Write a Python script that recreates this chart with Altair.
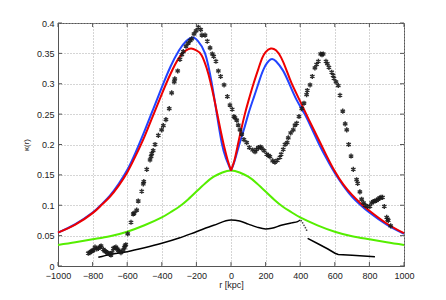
import altair as alt
import pandas as pd

# ---- data ----
red_x = [-1000, -900, -800, -750, -700, -650, -600, -550, -500, -450, -400, -350, -300, -260, -230, -200, -170, -140, -120, -100, -80, -60, -40, -20, 0,
         20, 40, 60, 80, 100, 130, 160, 180, 200, 230, 260, 290, 320, 350, 400, 450, 500, 550, 600, 650, 700, 750, 800, 900, 1000]
red_y = [0.055, 0.068, 0.087, 0.1, 0.114, 0.132, 0.154, 0.182, 0.213, 0.248, 0.283, 0.316, 0.343, 0.355, 0.358, 0.355, 0.347, 0.325, 0.304, 0.279, 0.251, 0.223, 0.197, 0.175, 0.157,
         0.174, 0.2, 0.226, 0.25, 0.271, 0.3, 0.326, 0.342, 0.352, 0.358, 0.355, 0.343, 0.323, 0.301, 0.271, 0.241, 0.212, 0.183, 0.156, 0.134, 0.117, 0.103, 0.091, 0.07, 0.054]

blue_x = [-1000, -900, -800, -750, -700, -650, -600, -550, -500, -450, -400, -350, -300, -260, -220, -190, -150, -112, -83, -54, -30, 0,
          20, 48, 75, 100, 130, 158, 190, 229, 260, 300, 337, 380, 426, 470, 510, 550, 600, 650, 700, 750, 800, 900, 1000]
blue_y = [0.055, 0.069, 0.088, 0.101, 0.116, 0.135, 0.158, 0.188, 0.222, 0.258, 0.294, 0.328, 0.355, 0.37, 0.376, 0.37, 0.35, 0.302, 0.252, 0.203, 0.178, 0.157,
          0.172, 0.2, 0.225, 0.25, 0.276, 0.3, 0.325, 0.34, 0.337, 0.322, 0.3, 0.273, 0.25, 0.224, 0.2, 0.178, 0.153, 0.132, 0.114, 0.1, 0.088, 0.068, 0.053]

green_x = [-1000, -900, -800, -700, -600, -500, -400, -350, -300, -250, -200, -150, -100, -50, 0,
           50, 100, 150, 200, 250, 300, 350, 400, 500, 600, 700, 800, 900, 1000]
green_y = [0.0346, 0.039, 0.044, 0.049, 0.0565, 0.067, 0.08, 0.0885, 0.0975, 0.109, 0.1225, 0.136, 0.147, 0.154, 0.157,
           0.154, 0.147, 0.136, 0.1225, 0.109, 0.0975, 0.0885, 0.08, 0.067, 0.0565, 0.049, 0.044, 0.039, 0.0346]

black_x = [-767, -700, -600, -500, -400, -300, -200, -100, 0, 50, 100, 150, 200, 235, 290, 350, 385, 400]
black_y = [0.0143, 0.019, 0.0236, 0.03, 0.0373, 0.046, 0.0565, 0.067, 0.0757, 0.074, 0.069, 0.064, 0.061, 0.062, 0.067, 0.071, 0.073, 0.0757]

dots_x = [406, 414, 422, 430, 437]
dots_y = [0.0745, 0.071, 0.067, 0.063, 0.059]

black2_x = [443, 500, 560, 601, 620, 700, 832]
black2_y = [0.0455, 0.037, 0.028, 0.021, 0.019, 0.0175, 0.0153]

star_x = [-825, -816, -809, -800, -796, -786, -776, -767, -758, -751, -738, -731, -724, -716, -709, -700, -694, -687, -680, -672,
          -665, -658, -652, -644, -636, -623, -617, -613, -608,
          -597, -578, -565, -560, -545, -536, -516, -507, -504, -487, -468, -462, -458, -450, -439, -420, -401, -391, -376, -357,
          -343, -328, -325, -308, -295, -284, -276, -260, -247, -236, -227, -214, -202, -189, -175, -168, -150, -137, -121, -108,
          -100, -87, -73, -60, -40, -21, -6, 7, 17, 23, 33, 42, 52, 62, 75, 91, 106, 125, 139, 148, 158, 170, 177, 191, 206, 216,
          225, 241, 254, 268, 283, 290, 302, 312, 325, 331, 345, 360, 370, 380, 393, 409, 422, 437, 441, 457, 470, 485, 495, 505,
          518, 526, 533, 549, 557, 566, 582, 590, 595, 607, 620, 630, 646, 660, 669, 680, 694, 707, 726, 732, 745, 755, 766, 775,
          790, 803, 813, 822, 832, 841, 851, 859, 867, 876, 886, 900, 905, 909, 923]
star_y = [0.021, 0.022, 0.024, 0.025, 0.026, 0.031, 0.028, 0.029, 0.031, 0.033, 0.0275, 0.025, 0.0236, 0.022, 0.021, 0.02, 0.018, 0.022, 0.029, 0.03,
          0.031, 0.028, 0.026, 0.024, 0.022, 0.026, 0.03, 0.033, 0.035,
          0.053, 0.072, 0.0856, 0.087, 0.092, 0.107, 0.123, 0.135, 0.139, 0.159, 0.1745, 0.18, 0.185, 0.19, 0.2, 0.215, 0.224, 0.231, 0.241, 0.259,
          0.285, 0.303, 0.308, 0.321, 0.34, 0.348, 0.353, 0.362, 0.367, 0.371, 0.374, 0.382, 0.387, 0.393, 0.389, 0.38, 0.38, 0.37, 0.359, 0.349,
          0.345, 0.337, 0.321, 0.312, 0.298, 0.279, 0.265, 0.258, 0.246, 0.244, 0.24, 0.232, 0.224, 0.217, 0.208, 0.203, 0.195, 0.191, 0.188, 0.192, 0.195, 0.196, 0.194, 0.19, 0.184, 0.182,
          0.18, 0.173, 0.171, 0.174, 0.179, 0.184, 0.192, 0.2, 0.203, 0.211, 0.219, 0.224, 0.232, 0.235, 0.246, 0.259, 0.268, 0.282, 0.289, 0.298, 0.312, 0.326, 0.332, 0.337,
          0.349, 0.348, 0.349, 0.337, 0.333, 0.327, 0.319, 0.314, 0.309, 0.303, 0.297, 0.281, 0.255, 0.234, 0.224, 0.2, 0.181, 0.159, 0.142, 0.136, 0.122, 0.11, 0.104, 0.1,
          0.098, 0.098, 0.104, 0.106, 0.107, 0.108, 0.11, 0.112, 0.113, 0.113, 0.098, 0.08, 0.077, 0.075, 0.066]

x_ticks = [-1000, -800, -600, -400, -200, 0, 200, 400, 600, 800, 1000]
y_ticks = [0, 0.05, 0.1, 0.15, 0.2, 0.25, 0.3, 0.35, 0.4]

W, H = 346, 243
FONT = "Liberation Sans"

xs = alt.Scale(domain=[-1000, 1000], nice=False, zero=False)
ys = alt.Scale(domain=[0, 0.4], nice=False)

xax = alt.Axis(values=x_ticks, title="r [kpc]", grid=True, gridDash=[1, 2], gridColor="#aaaaaa",
               tickSize=0, labelPadding=5, domainColor="#555555", labelFont=FONT, labelFontSize=9,
               labelColor="#222222", titleFont=FONT, titleFontSize=9, titleFontWeight="normal",
               titleColor="#222222", titlePadding=0, labelFlush=False, format="d")
yax = alt.Axis(values=y_ticks, title="κ(r)", grid=True, gridDash=[1, 2], gridColor="#aaaaaa",
               tickSize=0, labelPadding=4, domainColor="#555555", labelFont=FONT, labelFontSize=9,
               labelColor="#222222", titleFont=FONT, titleFontSize=8, titleFontWeight="normal",
               titleColor="#222222", titlePadding=6, labelFlush=False, format="~g")

X = lambda f="x:Q": alt.X(f, scale=xs, axis=xax)
Y = lambda f="y:Q": alt.Y(f, scale=ys, axis=yax)


def df(xv, yv):
    return pd.DataFrame({"x": xv, "y": yv})


def halves(xv, yv):
    """split a curve at its central cusp (x = 0) into two smooth branches"""
    rows = []
    for x, y in zip(xv, yv):
        if x <= 0:
            rows.append({"x": x, "y": y, "part": "L"})
        if x >= 0:
            rows.append({"x": x, "y": y, "part": "R"})
    return pd.DataFrame(rows)


def line_layer(xv, yv, color, width, interp="natural"):
    return alt.Chart(df(xv, yv)).mark_line(color=color, strokeWidth=width, interpolate=interp).encode(
        x=X(), y=Y())


def cusp_layer(xv, yv, color, width):
    return alt.Chart(halves(xv, yv)).mark_line(color=color, strokeWidth=width, interpolate="natural").encode(
        x=X(), y=Y(), detail="part:N")


green = line_layer(green_x, green_y, "#55ee00", 2)
black1 = line_layer(black_x, black_y, "#000000", 1.5, interp="monotone")
black2 = line_layer(black2_x, black2_y, "#000000", 1.5, interp="linear")
dots = alt.Chart(df(dots_x, dots_y)).mark_point(filled=True, color="#000000", size=3).encode(x=X(), y=Y())
blue = cusp_layer(blue_x, blue_y, "#2244ff", 2)
red = cusp_layer(red_x, red_y, "#ee0000", 2)

ASTERISK = "M0,-1L0,1M-0.87,-0.5L0.87,0.5M-0.87,0.5L0.87,-0.5"
stars = alt.Chart(df(star_x, star_y)).mark_point(
    shape=ASTERISK, filled=False, stroke="#1a1a1a", strokeWidth=1.4, size=26, opacity=0.9
).encode(x=X(), y=Y())

# inward tick marks (MATLAB style) on all four sides
xt = pd.DataFrame({"x": x_ticks})
yt = pd.DataFrame({"y": y_ticks})
tcol = "#555555"
tb = alt.Chart(xt).mark_rule(color=tcol, strokeWidth=1).encode(x=X(), y=alt.value(H), y2=alt.value(H - 4))
tt = alt.Chart(xt).mark_rule(color=tcol, strokeWidth=1).encode(x=X(), y=alt.value(0), y2=alt.value(4))
tl = alt.Chart(yt).mark_rule(color=tcol, strokeWidth=1).encode(y=Y(), x=alt.value(0), x2=alt.value(4))
tr = alt.Chart(yt).mark_rule(color=tcol, strokeWidth=1).encode(y=Y(), x=alt.value(W), x2=alt.value(W - 4))

chart = alt.layer(green, black1, dots, black2, blue, red, stars, tb, tt, tl, tr).properties(
    width=W, height=H,
    autosize=alt.AutoSizeParams(type="none"),
    padding={"left": 50, "top": 15, "right": 34, "bottom": 26},
    background="white",
).configure_view(stroke="#555555", strokeWidth=1)

chart.save("out.html", embed_options={"renderer": "svg", "actions": False})
